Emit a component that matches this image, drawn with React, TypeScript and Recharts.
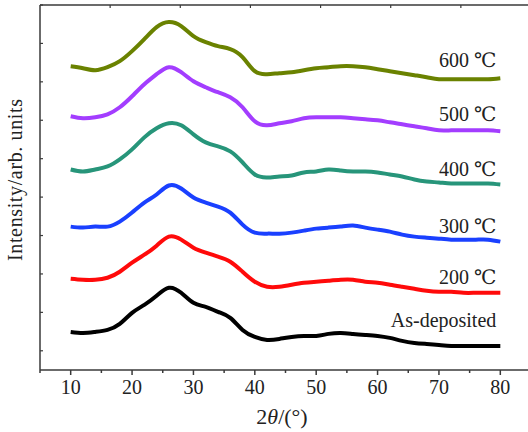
import { LineChart, Line, XAxis, YAxis, LabelList } from "recharts";

// 2θ grid (degrees)
const angles = [
  10, 12, 14, 16, 18, 20, 22, 24, 26, 28, 30, 32, 34, 36, 38, 40, 42, 44,
  46, 48, 50, 52, 54, 56, 58, 60, 62, 64, 66, 68, 70, 72, 74, 76, 78, 80,
];

// intensities (arb. units, already stacked)
const asDeposited = [
  38, 37, 38, 40, 46, 57, 65, 74, 82, 77, 67, 63, 58, 52, 40, 33, 30, 31,
  33, 34, 34, 36, 37, 36, 35, 34, 32, 29, 27, 26, 25, 24, 24, 24, 24, 24,
];
const t200 = [
  91, 90, 90, 92, 98, 107, 115, 124, 133, 130, 122, 117, 113, 108, 98, 88, 83, 83,
  85, 87, 88, 89, 90, 90, 88, 87, 85, 83, 81, 79, 78, 78, 77, 77, 77, 77,
];
const t300 = [
  143, 142, 143, 143, 148, 157, 167, 175, 184, 181, 172, 167, 163, 157, 145, 137, 136, 136,
  137, 139, 141, 142, 143, 144, 142, 140, 138, 135, 133, 132, 131, 130, 130, 130, 130, 128,
];
const t400 = [
  200, 198, 200, 203, 210, 220, 232, 241, 246, 244, 235, 227, 223, 218, 207, 195, 192, 193,
  194, 197, 198, 200, 199, 198, 198, 197, 195, 193, 190, 188, 187, 186, 186, 186, 186, 185,
];
const t500 = [
  253, 251, 252, 255, 262, 273, 285, 295, 302, 297, 288, 282, 277, 272, 262, 248, 244, 246,
  248, 251, 252, 252, 252, 251, 250, 249, 247, 245, 243, 241, 239, 239, 239, 239, 239, 238,
];
const t600 = [
  303, 301, 299, 302, 308, 318, 330, 342, 347, 343, 333, 327, 323, 320, 312, 298, 295, 296,
  297, 299, 301, 302, 303, 303, 302, 300, 298, 296, 294, 292, 290, 290, 290, 290, 290, 291,
];

const bottomTicks = [5, 10, 15, 20, 25, 30, 35, 40, 45, 50, 55, 60, 65, 70, 75, 80];
const topTicks = [5, 10, 15, 20, 25, 30, 35, 40, 45, 50, 55, 60, 65, 70, 75, 80, 85];
const yTicks = Array.from({ length: 20 }, (_, i) => (i * 364) / 19);

const series = [
  { key: "asDep", name: "As-deposited", values: asDeposited, color: "#000000", lift: 19 },
  { key: "t200", name: "200 ℃", values: t200, color: "#ff0a0a", lift: 9 },
  { key: "t300", name: "300 ℃", values: t300, color: "#1a40ff", lift: 9 },
  { key: "t400", name: "400 ℃", values: t400, color: "#27957a", lift: 8 },
  { key: "t500", name: "500 ℃", values: t500, color: "#a33dff", lift: 10 },
  { key: "t600", name: "600 ℃", values: t600, color: "#6a8200", lift: 11 },
];

const data = angles.map((a, i) => {
  const row: Record<string, number> = { angle: a };
  series.forEach((s) => (row[s.key] = s.values[i]));
  return row;
});

const FONT = "'Liberation Serif', 'DejaVu Serif', serif";
const AXIS = "#3a3a3a";
const last = angles.length - 1;

const BottomTick = (props: any) => {
  const { x, y, payload } = props;
  const major = payload.value % 10 === 0;
  return (
    <g>
      <line x1={x} y1={y} x2={x} y2={y + (major ? 5 : 3)} stroke={AXIS} strokeWidth={1.5} />
      {major && (
        <text x={x} y={y + 24} textAnchor="middle" fontFamily={FONT} fontSize={20} fill="#222">
          {payload.value}
        </text>
      )}
    </g>
  );
};

const endLabel = (text: string, lift: number) => (p: any) => {
  if (p.index !== last) return null;
  return (
    <text x={p.x - 4} y={p.y - lift} textAnchor="end" fontFamily={FONT} fontSize={20} fill="#222">
      {text}
    </text>
  );
};

const NoTick = () => <g />;

export default function App() {
  return (
    <div style={{ position: "absolute", left: 0, top: 0, width: 528, height: 432, overflow: "hidden" }}>
      <LineChart
        width={531}
        height={432}
        data={data}
        margin={{ top: 5, right: 0, bottom: 0, left: 40 }}
      >
        <XAxis
          dataKey="angle"
          type="number"
          domain={[5, 85]}
          ticks={bottomTicks}
          height={62}
          tickSize={0}
          tickMargin={0}
          tickLine={false}
          tick={<BottomTick />}
          axisLine={{ stroke: AXIS, strokeWidth: 1.5 }}
          allowDataOverflow
        />
        <XAxis
          xAxisId="top"
          orientation="top"
          type="number"
          domain={[5, 85]}
          ticks={topTicks}
          height={1}
          mirror
          tickSize={3}
          tick={<NoTick />}
          tickLine={{ stroke: AXIS, strokeWidth: 1.2 }}
          axisLine={{ stroke: AXIS, strokeWidth: 1.5 }}
          allowDataOverflow
        />
        <YAxis
          type="number"
          domain={[0, 364]}
          ticks={yTicks}
          width={1}
          mirror
          tickSize={3}
          tick={<NoTick />}
          tickLine={{ stroke: AXIS, strokeWidth: 1.2 }}
          axisLine={{ stroke: AXIS, strokeWidth: 1.5 }}
          allowDataOverflow
        />
        {series.map((s) => (
          <Line
            key={s.key}
            dataKey={s.key}
            type="natural"
            stroke={s.color}
            strokeWidth={4}
            dot={false}
            isAnimationActive={false}
          >
            <LabelList dataKey={s.key} content={endLabel(s.name, s.lift)} />
          </Line>
        ))}
      </LineChart>
      <svg
        width={528}
        height={432}
        style={{ position: "absolute", left: 0, top: 0, pointerEvents: "none" }}
      >
        <text
          transform="translate(22,180) rotate(-90)"
          textAnchor="middle"
          fontFamily={FONT}
          fontSize={20}
          textLength={162}
          lengthAdjust="spacing"
          fill="#222"
        >
          Intensity/arb. units
        </text>
        <text x={282} y={424} textAnchor="middle" fontFamily={FONT} fontSize={22} fill="#222">
          <tspan>2</tspan>
          <tspan fontStyle="italic">θ</tspan>
          <tspan>/(°)</tspan>
        </text>
      </svg>
    </div>
  );
}
